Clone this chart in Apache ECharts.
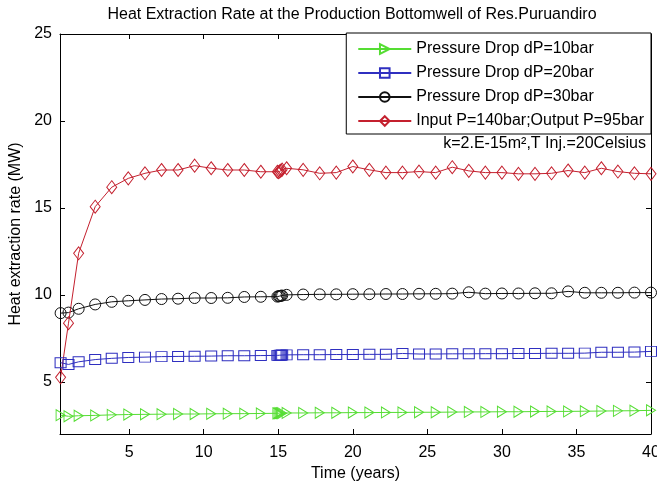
<!DOCTYPE html>
<html>
<head>
<meta charset="utf-8">
<script src="https://cdn.jsdelivr.net/npm/echarts@6/dist/echarts.min.js"></script>
<style>
  html, body { margin: 0; padding: 0; background: #fff; }
  #chart { width: 657px; height: 482px; }
</style>
</head>
<body>
<div id="chart"></div>
<script>
// Simulation output times (years)
const timeYears = [0.4, 0.93, 1.61, 2.72, 3.83, 4.94, 6.06, 7.17, 8.28, 9.39, 10.5, 11.61, 12.72, 13.83, 14.94,
  15.02, 15.1, 15.18, 15.26,
  15.56, 16.67, 17.78, 18.89, 20.0, 21.11, 22.22, 23.33, 24.44, 25.56, 26.67, 27.78, 28.89, 30.0, 31.11, 32.22,
  33.33, 34.44, 35.56, 36.67, 37.78, 38.89, 40.0];

// Heat extraction rate (MW) per case
const dp10 = [3.08, 3.02, 3.05, 3.07, 3.1, 3.12, 3.13, 3.14, 3.15, 3.15, 3.16, 3.17, 3.17, 3.18, 3.19,
  3.19, 3.2, 3.2, 3.2,
  3.21, 3.21, 3.22, 3.22, 3.23, 3.23, 3.24, 3.24, 3.25, 3.25, 3.26, 3.27, 3.27, 3.28, 3.28, 3.29,
  3.3, 3.3, 3.31, 3.32, 3.33, 3.34, 3.36];
const dp20 = [6.1, 6.0, 6.15, 6.28, 6.35, 6.4, 6.42, 6.45, 6.46, 6.47, 6.48, 6.5, 6.5, 6.51, 6.52,
  6.52, 6.53, 6.53, 6.54,
  6.55, 6.56, 6.56, 6.57, 6.57, 6.58, 6.58, 6.63, 6.6, 6.6, 6.61, 6.61, 6.62, 6.62, 6.63, 6.63,
  6.64, 6.64, 6.65, 6.7, 6.7, 6.71, 6.75];
const dp30 = [8.95, 8.98, 9.2, 9.45, 9.6, 9.66, 9.71, 9.76, 9.78, 9.82, 9.82, 9.83, 9.88, 9.89, 9.9,
  9.92, 9.93, 9.95, 9.96,
  10.0, 10.02, 10.03, 10.03, 10.04, 10.04, 10.05, 10.05, 10.06, 10.06, 10.07, 10.15, 10.07, 10.08, 10.08, 10.09,
  10.09, 10.2, 10.12, 10.12, 10.12, 10.13, 10.13];
const p140 = [5.26, 8.37, 12.39, 15.07, 16.19, 16.70, 16.99, 17.18, 17.18, 17.43, 17.28, 17.18, 17.18, 17.08, 17.08,
  17.05, 17.1, 17.15, 17.2,
  17.28, 17.19, 16.99, 17.03, 17.38, 17.19, 17.03, 17.03, 17.09, 17.03, 17.34, 17.13, 17.03, 17.03, 16.96, 16.96,
  16.99, 17.15, 17.03, 17.28, 17.09, 16.99, 16.96];

const seriesNames = ['Pressure Drop dP=10bar', 'Pressure Drop dP=20bar', 'Pressure Drop dP=30bar', 'Input P=140bar;Output P=95bar'];
const xTicks = [5, 10, 15, 20, 25, 30, 35, 40];
const yTicks = [5, 10, 15, 20, 25];

const FONT = '"Liberation Sans", Arial, sans-serif';
const FS = 16;
const pairs = (vals) => vals.map((v, i) => [timeYears[i], v]);

const makeSeries = (name, vals, color, symbol, size) => ({
  name: name,
  type: 'line',
  data: pairs(vals),
  symbol: symbol,
  symbolSize: size,
  showAllSymbol: true,
  lineStyle: { color: color, width: 1 },
  itemStyle: { color: 'rgba(255,255,255,0)', borderColor: color, borderWidth: 1 },
  emphasis: { disabled: true },
  animation: false,
  z: 3
});

const axisCommon = {
  axisLine: { show: true, onZero: false, lineStyle: { color: '#000', width: 1 } },
  splitLine: { show: false }
};

const chart = echarts.init(document.getElementById('chart'), null, { renderer: 'canvas' });
chart.setOption({
  backgroundColor: '#fff',
  animation: false,
  grid: { left: 60, right: 6, top: 34, bottom: 48, show: false, containLabel: false, outerBoundsMode: 'none' },
  legend: {
    orient: 'vertical',
    right: 6,
    top: 33,
    data: seriesNames,
    backgroundColor: '#fff',
    borderColor: '#000',
    borderWidth: 1,
    borderRadius: 0,
    padding: [8, 7, 5, 11],
    itemGap: 8,
    itemWidth: 53,
    itemHeight: 12,
    textStyle: { fontFamily: FONT, fontSize: FS, color: '#000' },
    selectedMode: false
  },
  graphic: [
    {
      type: 'text', x: 352, y: 15,
      style: { text: 'Heat Extraction Rate at the Production Bottomwell of Res.Puruandiro', font: FS + 'px ' + FONT, fill: '#000', align: 'center', verticalAlign: 'middle' }
    },
    {
      type: 'text', x: 646, y: 144,
      style: { text: 'k=2.E-15m²,T Inj.=20Celsius', font: FS + 'px ' + FONT, fill: '#000', align: 'right', verticalAlign: 'middle' }
    }
  ],
  xAxis: [
    Object.assign({
      type: 'value', min: 0.36, max: 40, position: 'bottom',
      name: 'Time (years)', nameLocation: 'middle', nameGap: 28,
      nameTextStyle: { fontFamily: FONT, fontSize: FS, color: '#000' },
      axisTick: { show: true, inside: true, length: 5, customValues: xTicks, lineStyle: { color: '#000' } },
      axisLabel: { show: true, customValues: xTicks, margin: 11, fontFamily: FONT, fontSize: FS, color: '#000' }
    }, axisCommon),
    Object.assign({
      type: 'value', min: 0.36, max: 40, position: 'top',
      axisTick: { show: true, inside: true, length: 5, customValues: xTicks, lineStyle: { color: '#000' } },
      axisLabel: { show: false }
    }, axisCommon)
  ],
  yAxis: [
    Object.assign({
      type: 'value', min: 2, max: 25, position: 'left',
      name: 'Heat extraction rate (MW)', nameLocation: 'middle', nameGap: 28,
      nameTextStyle: { fontFamily: FONT, fontSize: FS, color: '#000' },
      axisTick: { show: true, inside: true, length: 5, customValues: yTicks, lineStyle: { color: '#000' } },
      axisLabel: { show: true, customValues: yTicks, margin: 8, fontFamily: FONT, fontSize: FS, color: '#000' }
    }, axisCommon),
    Object.assign({
      type: 'value', min: 2, max: 25, position: 'right',
      axisTick: { show: true, inside: true, length: 5, customValues: yTicks, lineStyle: { color: '#000' } },
      axisLabel: { show: false }
    }, axisCommon)
  ],
  series: [
    makeSeries(seriesNames[0], dp10, '#55dd33', 'path://M0,0 L10,5 L0,10 Z', [9, 11]),
    makeSeries(seriesNames[1], dp20, '#2f2fc0', 'rect', [11, 10]),
    makeSeries(seriesNames[2], dp30, '#111111', 'circle', 11),
    makeSeries(seriesNames[3], p140, '#c4202e', 'diamond', [10, 13])
  ]
});
</script>
</body>
</html>
